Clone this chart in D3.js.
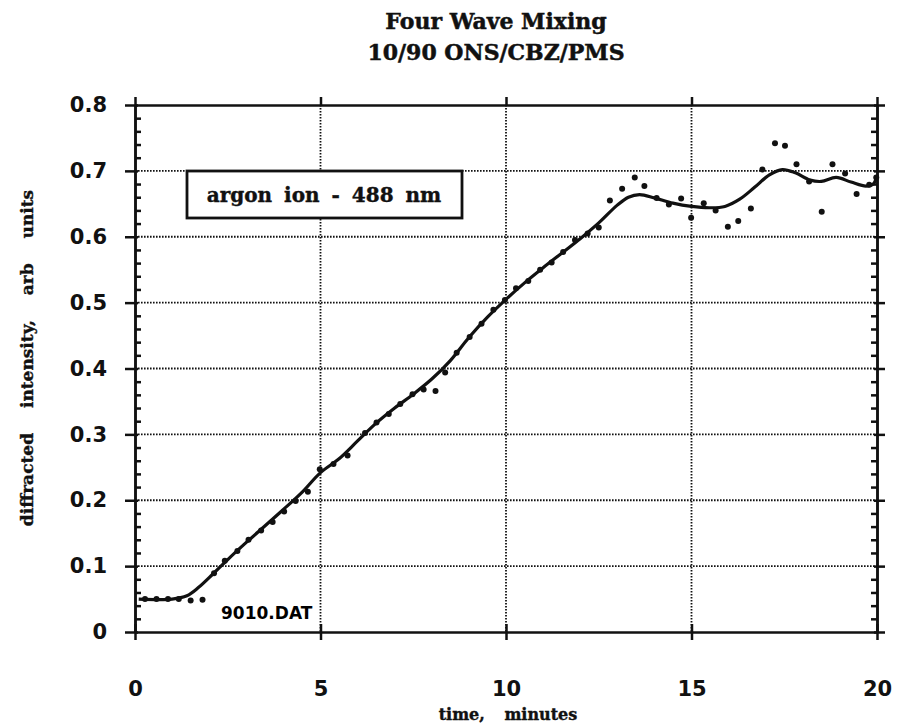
<!DOCTYPE html>
<html>
<head>
    <meta charset="utf-8">
    <title>Four Wave Mixing</title>
    <script src="https://cdn.jsdelivr.net/npm/d3@7"></script>
    <style>
        body {
            margin: 0;
            background: #fff;
        }

        .title {
            font-family: "DejaVu Serif", serif;
            font-weight: bold;
            font-size: 22px;
            fill: #111;
            stroke: #111;
            stroke-width: 0.5px;
        }

        .axis path,
        .axis line {
            stroke: #111;
            stroke-width: 2.5px;
        }

        .axis text {
            font-family: "DejaVu Sans", sans-serif;
            font-weight: bold;
            font-size: 21px;
            fill: #111;
        }

        .grid line {
            stroke: #111;
            stroke-width: 1.8px;
            stroke-dasharray: 1.6, 1.4;
        }

        .fit {
            fill: none;
            stroke: #111;
            stroke-width: 3.2px;
        }

        .dot {
            fill: #111;
        }

        .label {
            font-family: "DejaVu Serif", serif;
            font-weight: bold;
            fill: #111;
            stroke: #111;
            stroke-width: 0.4px;
        }
    </style>
</head>

<body>

<script type="text/javascript">
    // measured points: time (min) and diffracted intensity
    var times = [0.27, 0.58, 0.89, 1.18, 1.50, 1.82, 2.13, 2.42, 2.76, 3.06,
        3.40, 3.71, 4.02, 4.33, 4.66, 4.98, 5.35, 5.73, 6.20, 6.51,
        6.84, 7.15, 7.48, 7.78, 8.10, 8.36, 8.67, 9.02, 9.34, 9.66,
        9.97, 10.27, 10.60, 10.92, 11.23, 11.54, 11.86, 12.20, 12.50, 12.80,
        13.13, 13.47, 13.73, 14.06, 14.39, 14.72, 14.99, 15.33, 15.65, 15.98,
        16.26, 16.60, 16.91, 17.25, 17.52, 17.83, 18.17, 18.51, 18.80, 19.14,
        19.45, 19.79, 19.98];
    var intensity = [0.050, 0.050, 0.050, 0.050, 0.048, 0.049, 0.089, 0.108, 0.123, 0.140,
        0.154, 0.167, 0.183, 0.199, 0.213, 0.247, 0.255, 0.268, 0.302, 0.318,
        0.331, 0.346, 0.361, 0.368, 0.366, 0.394, 0.424, 0.448, 0.468, 0.489,
        0.504, 0.522, 0.533, 0.550, 0.561, 0.577, 0.595, 0.605, 0.614, 0.655,
        0.673, 0.690, 0.677, 0.659, 0.649, 0.658, 0.629, 0.651, 0.640, 0.615,
        0.624, 0.643, 0.702, 0.742, 0.738, 0.710, 0.684, 0.638, 0.710, 0.696,
        0.665, 0.679, 0.690];

    // smoothed fit curve
    var fitTimes = [0.1, 1.0, 1.4, 1.7, 2.1, 2.5, 3.0, 3.5, 4.0, 4.5,
        5.0, 5.5, 6.0, 6.5, 7.0, 7.5, 8.0, 8.5, 9.0, 9.5,
        10.0, 10.5, 11.0, 11.5, 12.0, 12.5, 13.0, 13.3, 13.6, 14.0,
        14.5, 15.0, 15.5, 15.9, 16.3, 16.7, 17.1, 17.45, 17.8, 18.2,
        18.5, 18.9, 19.3, 19.7, 19.9, 20.0];
    var fitValues = [0.050, 0.050, 0.055, 0.067, 0.088, 0.110, 0.136, 0.161, 0.186, 0.212,
        0.242, 0.263, 0.290, 0.317, 0.340, 0.361, 0.384, 0.412, 0.447, 0.478,
        0.505, 0.530, 0.553, 0.575, 0.597, 0.621, 0.648, 0.660, 0.664, 0.659,
        0.651, 0.646, 0.644, 0.646, 0.657, 0.675, 0.694, 0.702, 0.697, 0.686,
        0.684, 0.690, 0.683, 0.677, 0.680, 0.693];

    var xTicks = [0, 5, 10, 15, 20];
    var yTicks = [0, 0.1, 0.2, 0.3, 0.4, 0.5, 0.6, 0.7, 0.8];
    var yMinor = d3.range(0, 41).map(function (i) { return i / 50; })
            .filter(function (v) { return Math.round(v * 50) % 5 !== 0; });

    var titleLines = ["Four Wave Mixing", "10/90 ONS/CBZ/PMS"];
    var legendText = "argon ion - 488 nm";
    var fileText = "9010.DAT";

    var svgWidth = 897,
        svgHeight = 725,
        margin = {top: 105, right: 20, bottom: 93, left: 135},
        width = svgWidth - margin.left - margin.right,
        height = svgHeight - margin.top - margin.bottom;

    var svg = d3.select("body").append("svg")
            .attr("width", svgWidth)
            .attr("height", svgHeight);

    svg.selectAll("text.title")
            .data(titleLines)
            .enter().append("text")
            .attr("class", "title")
            .attr("x", 496)
            .attr("y", function (d, i) { return 29 + i * 31; })
            .attr("text-anchor", "middle")
            .text(function (d) { return d; });

    var g = svg.append("g")
            .attr("transform", "translate(" + margin.left + "," + margin.top + ")");

    var x = d3.scaleLinear().domain([0, 20]).range([0, width]);
    var y = d3.scaleLinear().domain([0, 0.8]).range([height, 0]);

    // dotted grid
    var grid = g.append("g").attr("class", "grid");
    grid.selectAll("line.v")
            .data(xTicks.slice(1, -1))
            .enter().append("line")
            .attr("x1", x).attr("x2", x)
            .attr("y1", 0).attr("y2", height);
    grid.selectAll("line.h")
            .data(yTicks.slice(1, -1))
            .enter().append("line")
            .attr("x1", 0).attr("x2", width)
            .attr("y1", y).attr("y2", y);

    // axes
    var bottom = g.append("g")
            .attr("class", "axis")
            .attr("transform", "translate(0," + height + ")")
            .call(d3.axisBottom(x).tickValues(xTicks).tickSize(8).tickSizeOuter(0).tickPadding(41));
    bottom.selectAll(".tick line").attr("y1", -8);

    g.append("g")
            .attr("class", "axis")
            .call(d3.axisTop(x).tickValues(xTicks).tickSize(8).tickSizeOuter(0).tickFormat(""));

    var left = g.append("g")
            .attr("class", "axis")
            .call(d3.axisLeft(y).tickValues(yTicks).tickSize(10).tickSizeOuter(0).tickPadding(18)
                    .tickFormat(function (d) { return d === 0 ? "0" : d3.format(".1f")(d); }));
    left.selectAll(".tick line").attr("x1", 3);

    g.append("g")
            .attr("class", "axis")
            .call(d3.axisLeft(y).tickValues(yMinor).tickSize(-6).tickSizeOuter(0).tickFormat(""));

    var right = g.append("g")
            .attr("class", "axis")
            .attr("transform", "translate(" + width + ",0)")
            .call(d3.axisRight(y).tickValues(yTicks).tickSize(8).tickSizeOuter(0).tickFormat(""));
    right.selectAll(".tick line").attr("x1", -3);

    g.append("g")
            .attr("class", "axis")
            .attr("transform", "translate(" + width + ",0)")
            .call(d3.axisRight(y).tickValues(yMinor).tickSize(-6).tickSizeOuter(0).tickFormat(""));

    // fit line
    var line = d3.line()
            .x(function (d) { return x(d[0]); })
            .y(function (d) { return y(d[1]); })
            .curve(d3.curveCatmullRom.alpha(0.5));

    g.append("path")
            .datum(d3.zip(fitTimes, fitValues))
            .attr("class", "fit")
            .attr("d", line);

    // data points
    g.selectAll("circle.dot")
            .data(d3.zip(times, intensity))
            .enter().append("circle")
            .attr("class", "dot")
            .attr("cx", function (d) { return x(d[0]); })
            .attr("cy", function (d) { return y(d[1]); })
            .attr("r", 3);

    // legend box
    g.append("rect")
            .attr("x", 52).attr("y", 66)
            .attr("width", 275).attr("height", 47)
            .attr("fill", "#fff")
            .attr("stroke", "#111")
            .attr("stroke-width", 2.8);

    g.append("text")
            .attr("class", "label")
            .attr("x", 189).attr("y", 97)
            .attr("text-anchor", "middle")
            .style("font-size", "20px")
            .style("word-spacing", "5px")
            .text(legendText);

    g.append("text")
            .attr("x", 86).attr("y", 514)
            .style("font-family", "DejaVu Sans, sans-serif")
            .style("font-weight", "bold")
            .style("font-size", "17px")
            .text(fileText);

    // axis titles
    svg.append("text")
            .attr("class", "label")
            .attr("x", 508).attr("y", 720)
            .attr("text-anchor", "middle")
            .style("font-size", "16px")
            .style("word-spacing", "14px")
            .text("time, minutes");

    svg.append("text")
            .attr("class", "label")
            .attr("transform", "translate(33,358) rotate(-90)")
            .attr("text-anchor", "middle")
            .style("font-size", "17px")
            .style("word-spacing", "19px")
            .text("diffracted intensity, arb units");
</script>

</body>

</html>
